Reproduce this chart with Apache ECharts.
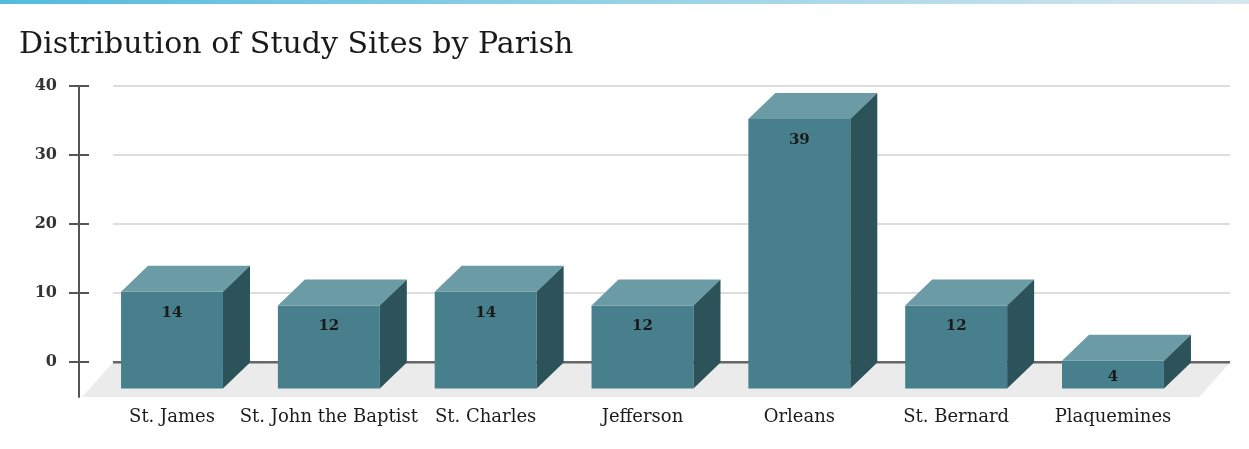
<!DOCTYPE html>
<html>
<head>
<meta charset="utf-8">
<script src="https://cdn.jsdelivr.net/npm/echarts@6/dist/echarts.min.js"></script>
<style>
  html, body { margin: 0; padding: 0; background: #ffffff; }
  #chart { width: 1249px; height: 449px; }
</style>
</head>
<body>
<div id="chart"></div>
<script>
const titleText = 'Distribution of Study Sites by Parish';
const categories = ['St. James', 'St. John the Baptist', 'St. Charles', 'Jefferson', 'Orleans', 'St. Bernard', 'Plaquemines'];
const values = [14, 12, 14, 12, 39, 12, 4];
const yTickMin = 0;
const yTickMax = 40;
const yTickStep = 10;
const floorMin = -5;

const serif = '"DejaVu Serif", serif';
const DX = 27, DY = 26;      // bar depth offset (px)
const FLOOR_DX = 31;          // floor slant (px)

const chart = echarts.init(document.getElementById('chart'), null, { renderer: 'canvas' });

function renderBar(params, api) {
  const i = api.value(0), v = api.value(1);
  const base = api.coord([i, 0]);
  const top = api.coord([i, v]);
  const bw = api.size([1, 0])[0] * 0.65;
  const xl = base[0] - bw / 2, xr = base[0] + bw / 2;
  const fTop = top[1] + DY, fBot = base[1] + DY;
  const fh = fBot - fTop;
  const labelOff = Math.min(21, fh * 0.6);
  return {
    type: 'group',
    children: [
      { type: 'rect', shape: { x: xl, y: fTop, width: bw, height: fh }, style: { fill: '#47808c' } },
      { type: 'polygon', shape: { points: [[xl, fTop], [xl + DX, fTop - DY], [xr + DX, fTop - DY], [xr, fTop]] }, style: { fill: '#6b9ba5' } },
      { type: 'polygon', shape: { points: [[xr, fTop], [xr + DX, fTop - DY], [xr + DX, fBot - DY], [xr, fBot]] }, style: { fill: '#2d535a' } },
      { type: 'text', style: { text: String(v), x: base[0], y: fTop + labelOff, align: 'center', verticalAlign: 'middle', fontFamily: serif, fontWeight: 'bold', fontSize: 15, fill: '#1a1a1a' } }
    ]
  };
}

function renderFloor(params, api) {
  const bl = api.coord([0, 0]);
  const br = api.coord([1, 0]);
  const fr = api.coord([1, floorMin]);
  const fl = api.coord([0, floorMin]);
  return {
    type: 'group',
    children: [
      { type: 'polygon', shape: { points: [bl, br, [fr[0] - FLOOR_DX, fr[1]], [fl[0] - FLOOR_DX, fl[1]]] }, style: { fill: '#ebebeb' } },
      { type: 'line', shape: { x1: bl[0], y1: bl[1], x2: br[0], y2: br[1] }, style: { stroke: '#666666', lineWidth: 2 } }
    ]
  };
}

const option = {
  backgroundColor: '#ffffff',
  animation: false,
  graphic: [
    {
      type: 'rect', left: 0, top: 0, z: 100,
      shape: { x: 0, y: 0, width: 1249, height: 4 },
      style: { fill: { type: 'linear', x: 0, y: 0, x2: 1, y2: 0, colorStops: [
        { offset: 0, color: '#52bbde' }, { offset: 0.5, color: '#96d2e6' }, { offset: 1, color: '#d8e7ee' }
      ] } }
    }
  ],
  title: {
    text: titleText,
    left: 14, top: 25,
    textStyle: { fontFamily: serif, fontSize: 30, fontWeight: 'normal', color: '#1a1a1a' }
  },
  grid: [
    { left: 113, right: 19, top: 86, bottom: 87 },
    { left: 93.6, right: 57.6, top: 86, bottom: 52 },
    { left: 113, right: 19, top: 86, bottom: 52 }
  ],
  xAxis: [
    { gridIndex: 0, type: 'value', min: 0, max: 1, show: false },
    { gridIndex: 1, type: 'category', data: categories,
      axisLine: { show: false }, axisTick: { show: false },
      axisLabel: { interval: 0, margin: 11, fontFamily: serif, fontSize: 18, color: '#1c1c1c' } },
    { gridIndex: 2, type: 'value', min: 0, max: 1, show: false }
  ],
  yAxis: [
    { gridIndex: 0, type: 'value', position: 'left', min: yTickMin, max: yTickMax, interval: yTickStep, offset: 34,
      axisLine: { show: false, onZero: false },
      axisTick: { show: true, length: 10, lineStyle: { color: '#555', width: 2 } },
      axisLabel: { margin: 22, fontFamily: serif, fontWeight: 'bold', fontSize: 16, color: '#333' },
      splitLine: { show: true, lineStyle: { color: ['#666666', '#dddddd', '#dddddd', '#dddddd', '#dddddd'], width: 2 } } },
    { gridIndex: 0, type: 'value', position: 'left', min: yTickMin, max: yTickMax, interval: yTickStep, offset: 34,
      axisLine: { show: false, onZero: false },
      axisTick: { show: true, inside: true, length: 10, lineStyle: { color: '#555', width: 2 } },
      axisLabel: { show: false }, splitLine: { show: false } },
    { gridIndex: 1, type: 'value', position: 'left', min: floorMin, max: yTickMax, show: false },
    { gridIndex: 2, type: 'value', position: 'left', min: floorMin, max: yTickMax, offset: 34,
      axisLine: { show: true, onZero: false, lineStyle: { color: '#555', width: 2 } },
      axisTick: { show: false }, axisLabel: { show: false }, splitLine: { show: false } }
  ],
  series: [
    { type: 'custom', xAxisIndex: 2, yAxisIndex: 3, renderItem: renderFloor, data: [[0, 0]], z: 1, silent: true },
    { type: 'custom', xAxisIndex: 1, yAxisIndex: 2, renderItem: renderBar,
      data: values.map((v, i) => [i, v]), encode: { x: 0, y: 1 }, z: 3, clip: false }
  ]
};
chart.setOption(option);
</script>
</body>
</html>
